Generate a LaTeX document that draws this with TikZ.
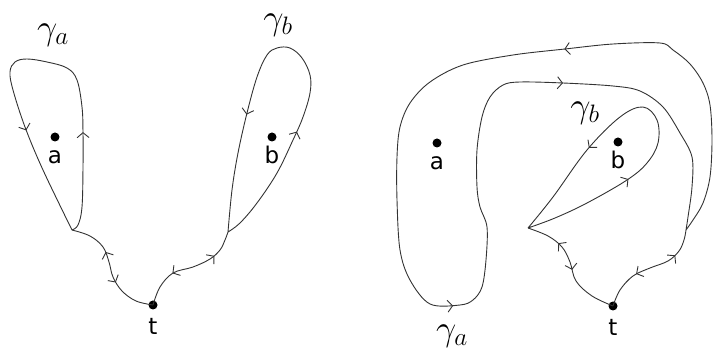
\RequirePackage{fix-cm}
\documentclass[tikz,border=0pt]{standalone}
\usepackage{fontspec}
\newfontfamily\tagfont{DejaVu Sans}
\usetikzlibrary{arrows.meta,decorations.markings,positioning}
\tikzset{
    % open chevron put on the strands
    chev/.tip={Straight Barb[length=5pt,width=12pt]},
    strand/.style={
        line width=0.9pt,
        draw=black!80,
        line join=round
    },
    fwd/.style={
        postaction={decorate, decoration={markings,
            mark=at position #1 with {\arrow{chev}}}}
    },
    bwd/.style={
        postaction={decorate, decoration={markings,
            mark=at position #1 with {\arrowreversed{chev}}}}
    },
    puncture/.style={
        circle,
        fill=black,
        inner sep=0pt,
        minimum size=9pt
    },
    tag/.style={
        font=\tagfont\fontsize{23}{25}\selectfont,
        inner sep=0pt,
        text height=17pt,
        text depth=0pt
    },
    loopname/.style={
        font=\fontsize{36}{40}\selectfont,
        inner sep=0pt
    }
}

\begin{document}
\begin{tikzpicture}[x=1pt, y=-1pt]
    \useasboundingbox (0,0) rectangle (713,358);

    % Left picture: punctures and base point
    \node[puncture] (a1) at (55,137) {};
    \node[tag, below=5pt of a1] (a1tag) {a};
    \node[puncture] (b1) at (272,137) {};
    \node[tag, below=5pt of b1] (b1tag) {b};
    \node[puncture] (t1) at (153,305) {};
    \node[tag, below=8pt of t1] (t1tag) {t};
    \coordinate (tipA1) at (72,230);
    \coordinate (tipB1) at (228,232);

    % Loop round a
    \draw[strand, fwd=0.25, fwd=0.73] plot[smooth, tension=0.6] coordinates {
        (tipA1) (78,225) (82,207) (83,167) (83,133) (82,107) (77,80) (67,68)
        (47,62) (27,59) (15,62) (10,72) (13,90) (25,127) (43,170) (tipA1)};
    \node[loopname] (ga1) at (53,35) {$\gamma_a$};

    % Loop round b
    \draw[strand, fwd=0.29, fwd=0.72] plot[smooth, tension=0.6] coordinates {
        (tipB1) (240,223) (257,203) (277,173) (293,140) (303,117) (310,93)
        (310,75) (302,58) (290,48) (277,48) (267,55) (257,77) (247,113)
        (238,153) (232,190) (tipB1)};
    \node[loopname] (gb1) at (278,25) {$\gamma_b$};

    % Tails to t
    \draw[strand, bwd=0.35, fwd=0.62] plot[smooth, tension=0.6] coordinates {
        (tipA1) (90,236) (103,247) (109,262) (113,277) (122,291) (136,301) (t1)};
    \draw[strand, bwd=0.34, fwd=0.75] plot[smooth, tension=0.6] coordinates {
        (t1) (160,287) (173,273) (193,267) (210,259) (220,250) (225,240) (tipB1)};

    % Right picture: punctures and base point
    \node[puncture] (a2) at (437,143) {};
    \node[tag, below=5pt of a2] (a2tag) {a};
    \node[puncture] (b2) at (618,142) {};
    \node[tag, below=5pt of b2] (b2tag) {b};
    \node[puncture] (t2) at (613,306) {};
    \node[tag, below=8pt of t2] (t2tag) {t};
    \coordinate (tipB2) at (528,228);
    \coordinate (fork) at (686,230);

    % Loop round a, taken round b as well
    \draw[strand, fwd=0.246, fwd=0.567, fwd=0.812] plot[smooth, tension=0.55] coordinates {
        (fork) (693,220) (703,203) (710,177) (712,140) (710,105) (703,83)
        (690,64) (673,50) (660,43) (613,44) (565,49) (513,55) (463,65)
        (430,82) (410,103) (400,127) (397,157) (397,200) (400,250) (410,280)
        (430,304) (460,305) (473,300) (482,287) (486,260) (487,227) (480,207)
        (477,187) (477,150) (482,117) (490,97) (503,85) (520,82) (563,83)
        (613,86) (640,91) (663,107) (680,133) (692,157) (692,187) (688,217)
        (fork)};
    \node[loopname] (ga2) at (452,336) {$\gamma_a$};

    % Loop round b
    \draw[strand, fwd=0.30, fwd=0.73] plot[smooth, tension=0.6] coordinates {
        (tipB2) (555,218) (587,203) (627,180) (647,163) (658,143) (657,120)
        (643,107) (620,117) (587,150) (553,197) (tipB2)};
    \node[loopname] (gb2) at (585,113) {$\gamma_b$};

    % Tails to t
    \draw[strand, bwd=0.28, fwd=0.53] plot[smooth, tension=0.6] coordinates {
        (tipB2) (548,236) (562,247) (570,262) (576,281) (592,296) (t2)};
    \draw[strand, bwd=0.36, fwd=0.75] plot[smooth, tension=0.6] coordinates {
        (t2) (620,290) (633,276) (650,268) (668,261) (679,251) (684,240) (fork)};
\end{tikzpicture}
\end{document}
